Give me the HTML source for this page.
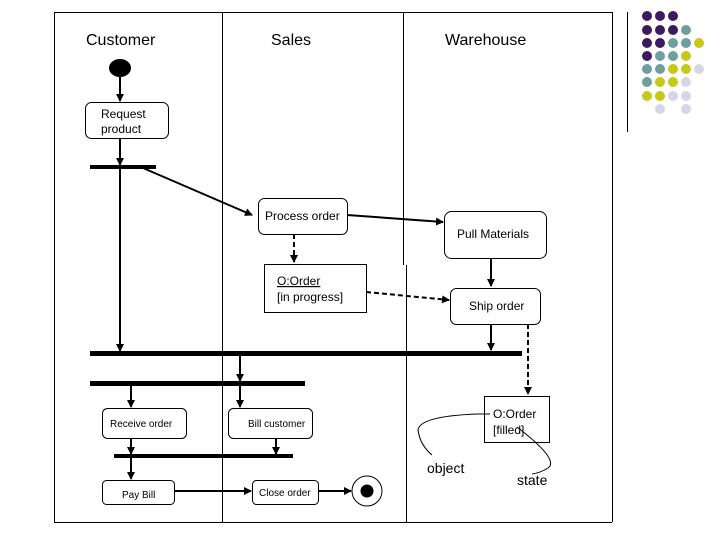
<!DOCTYPE html>
<html><head><style>
html,body{margin:0;padding:0;background:#fff;}
svg{display:block;}
text{font-family:"Liberation Sans",sans-serif;fill:#000;}
</style></head><body>
<svg width="720" height="540" viewBox="0 0 720 540" xmlns="http://www.w3.org/2000/svg">
<defs>
<marker id="a" markerWidth="8" markerHeight="8" refX="7" refY="4" orient="auto" markerUnits="userSpaceOnUse">
<path d="M0,0 L8,4 L0,8 z" fill="#000"/></marker>
</defs>
<!-- frame -->
<g stroke="#000" stroke-width="1" fill="none">
<line x1="54.5" y1="12" x2="54.5" y2="522"/>
<line x1="54" y1="12.5" x2="612" y2="12.5"/>
<line x1="612.5" y1="12" x2="612.5" y2="522"/>
<line x1="54" y1="522.5" x2="612" y2="522.5"/>
<line x1="222.5" y1="12" x2="222.5" y2="522"/>
<line x1="403.5" y1="12" x2="403.5" y2="265"/>
<line x1="406.5" y1="265" x2="406.5" y2="522"/>
<line x1="627.5" y1="12" x2="627.5" y2="132"/>
</g>
<text x="86" y="45" font-size="16">Customer</text>
<text x="271" y="45" font-size="16">Sales</text>
<text x="445" y="45" font-size="16">Warehouse</text>
<!-- dots -->
<g>
<circle cx="647" cy="16" r="5" fill="#3d1a5e"/><circle cx="660" cy="16" r="5" fill="#3d1a5e"/><circle cx="673" cy="16" r="5" fill="#3d1a5e"/>
<circle cx="647" cy="30" r="5" fill="#3d1a5e"/><circle cx="660" cy="30" r="5" fill="#3d1a5e"/><circle cx="673" cy="30" r="5" fill="#3d1a5e"/><circle cx="686" cy="30" r="5" fill="#6f9e9e"/>
<circle cx="647" cy="43" r="5" fill="#3d1a5e"/><circle cx="660" cy="43" r="5" fill="#3d1a5e"/><circle cx="673" cy="43" r="5" fill="#6f9e9e"/><circle cx="686" cy="43" r="5" fill="#6f9e9e"/><circle cx="699" cy="43" r="5" fill="#c8c81a"/>
<circle cx="647" cy="56" r="5" fill="#3d1a5e"/><circle cx="660" cy="56" r="5" fill="#6f9e9e"/><circle cx="673" cy="56" r="5" fill="#6f9e9e"/><circle cx="686" cy="56" r="5" fill="#c8c81a"/>
<circle cx="647" cy="69" r="5" fill="#6f9e9e"/><circle cx="660" cy="69" r="5" fill="#6f9e9e"/><circle cx="673" cy="69" r="5" fill="#c8c81a"/><circle cx="686" cy="69" r="5" fill="#c8c81a"/><circle cx="699" cy="69" r="5" fill="#d6d6e6"/>
<circle cx="647" cy="82" r="5" fill="#6f9e9e"/><circle cx="660" cy="82" r="5" fill="#c8c81a"/><circle cx="673" cy="82" r="5" fill="#c8c81a"/><circle cx="686" cy="82" r="5" fill="#d6d6e6"/>
<circle cx="647" cy="96" r="5" fill="#c8c81a"/><circle cx="660" cy="96" r="5" fill="#c8c81a"/><circle cx="673" cy="96" r="5" fill="#d6d6e6"/><circle cx="686" cy="96" r="5" fill="#d6d6e6"/>
<circle cx="660" cy="109" r="5" fill="#d6d6e6"/><circle cx="686" cy="109" r="5" fill="#d6d6e6"/>
</g>
<!-- start -->
<ellipse cx="120" cy="68" rx="11" ry="9" fill="#000"/>
<g stroke="#000" stroke-width="2" fill="none">
<line x1="120" y1="77" x2="120" y2="101" marker-end="url(#a)"/>
<line x1="120" y1="138" x2="120" y2="165" marker-end="url(#a)"/>
<line x1="120" y1="169" x2="120" y2="351" marker-end="url(#a)"/>
<line x1="143" y1="168" x2="252" y2="215" marker-end="url(#a)"/>
<line x1="347" y1="215" x2="443" y2="222" marker-end="url(#a)"/>
<line x1="491" y1="258" x2="491" y2="286" marker-end="url(#a)"/>
<line x1="491" y1="324" x2="491" y2="350" marker-end="url(#a)"/>
<line x1="240" y1="355" x2="240" y2="381" marker-end="url(#a)"/>
<line x1="131" y1="385" x2="131" y2="407" marker-end="url(#a)"/>
<line x1="240" y1="385" x2="240" y2="407" marker-end="url(#a)"/>
<line x1="131" y1="438" x2="131" y2="454" marker-end="url(#a)"/>
<line x1="276" y1="438" x2="276" y2="454" marker-end="url(#a)"/>
<line x1="131" y1="458" x2="131" y2="479" marker-end="url(#a)"/>
<line x1="174" y1="491" x2="251" y2="491" marker-end="url(#a)"/>
<line x1="318" y1="491" x2="351" y2="491" marker-end="url(#a)"/>
</g>
<g stroke="#000" stroke-width="2" fill="none" stroke-dasharray="5,3">
<line x1="294" y1="234" x2="294" y2="262" marker-end="url(#a)"/>
<line x1="366" y1="292" x2="449" y2="300" marker-end="url(#a)"/>
<line x1="528" y1="324" x2="528" y2="394" marker-end="url(#a)"/>
</g>
<!-- bars -->
<rect x="90" y="165" width="66" height="4" fill="#000"/>
<rect x="90" y="351" width="432" height="5" fill="#000"/>
<rect x="90" y="381" width="215" height="5" fill="#000"/>
<rect x="114" y="454" width="179" height="4" fill="#000"/>
<!-- boxes -->
<g stroke="#000" stroke-width="1" fill="#fff">
<rect x="85.5" y="102.5" width="83" height="36" rx="6"/>
<rect x="258.5" y="198.5" width="89" height="36" rx="6"/>
<rect x="264.5" y="264.5" width="102" height="48"/>
<rect x="444.5" y="211.5" width="102" height="47" rx="7"/>
<rect x="450.5" y="288.5" width="90" height="36" rx="6"/>
<rect x="484.5" y="396.5" width="65" height="46"/>
<rect x="102.5" y="408.5" width="84" height="30" rx="5"/>
<rect x="228.5" y="408.5" width="84" height="30" rx="5"/>
<rect x="102.5" y="480.5" width="72" height="24" rx="4"/>
<rect x="252.5" y="480.5" width="66" height="24" rx="4"/>
<circle cx="367" cy="491" r="15"/>
</g>
<circle cx="367" cy="491" r="6.5" fill="#000"/>
<g font-size="12">
<text x="101" y="118">Request</text>
<text x="101" y="133">product</text>
<text x="265" y="220">Process order</text>
<text x="277" y="285" text-decoration="underline">O:Order</text>
<text x="277" y="301">[in progress]</text>
<text x="457" y="238">Pull Materials</text>
<text x="469" y="310">Ship order</text>
<text x="493" y="418">O:Order</text>
<text x="493" y="434">[filled]</text>
<text x="427" y="473" font-size="14">object</text>
<text x="517" y="485" font-size="14">state</text>
</g>
<g font-size="10">
<text x="110" y="427">Receive order</text>
<text x="248" y="427">Bill customer</text>
<text x="122" y="498">Pay Bill</text>
<text x="259" y="496">Close order</text>
</g>
<g stroke="#000" stroke-width="1" fill="none">
<path d="M490,414 L478,414 Q420,416 418,430 Q420,445 432,455"/>
<path d="M517,427 Q560,460 548,468 Q540,473 532,474"/>
</g>
</svg>
</body></html>
